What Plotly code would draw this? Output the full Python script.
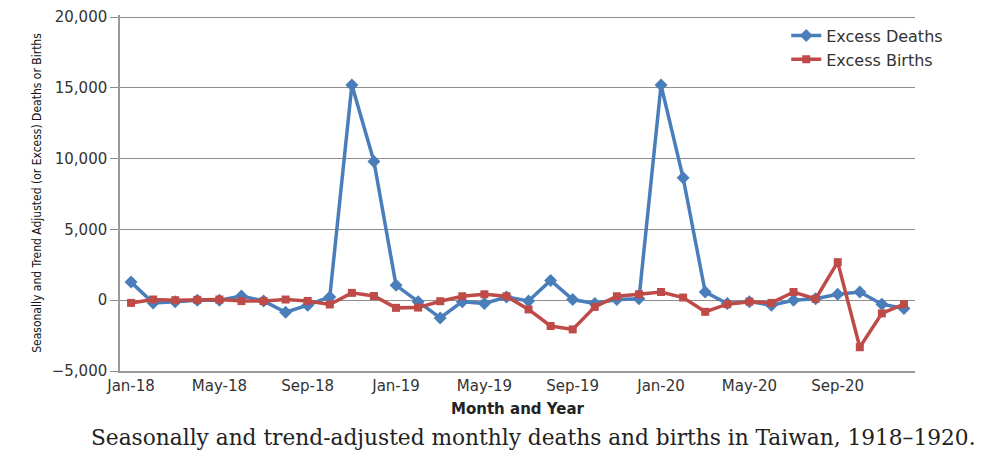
import plotly.graph_objects as go

months = [f"{m}-{y}" for y in ["18", "19", "20"] for m in
          ["Jan", "Feb", "Mar", "Apr", "May", "Jun", "Jul", "Aug", "Sep", "Oct", "Nov", "Dec"]]

excess_deaths = [1280, -200, -100, 0, 0, 300, -50, -850, -350, 230, 15200, 9800,
                 1050, -100, -1250, -100, -230, 230, -50, 1400, 50, -230, 50, 100,
                 15200, 8650, 580, -230, -100, -350, 0, 100, 420, 580, -280, -580]

excess_births = [-190, 50, 0, 30, 50, -60, -60, 50, -50, -300, 520, 300,
                 -540, -520, -70, 280, 420, 280, -650, -1820, -2060, -470, 280, 420,
                 580, 190, -820, -280, -100, -190, 580, 100, 2690, -3320, -930, -280]

tick_labels = ["Jan-18", "May-18", "Sep-18", "Jan-19", "May-19", "Sep-19", "Jan-20", "May-20", "Sep-20"]

caption = "Seasonally and trend-adjusted monthly deaths and births in Taiwan, 1918\u20131920."

font_sans = "DejaVu Sans, Open Sans, sans-serif"

fig = go.Figure()
fig.add_trace(go.Scatter(
    x=months, y=excess_deaths, name="Excess Deaths", mode="lines+markers",
    line=dict(color="#4A7EBB", width=3.5),
    marker=dict(symbol="diamond", size=10, color="#4A7EBB"),
))
fig.add_trace(go.Scatter(
    x=months, y=excess_births, name="Excess Births", mode="lines+markers",
    line=dict(color="#BE4B48", width=3.5),
    marker=dict(symbol="square", size=8, color="#BE4B48"),
))

fig.update_layout(
    width=984, height=445,
    margin=dict(l=112, r=77, t=7, b=82),
    paper_bgcolor="white", plot_bgcolor="white",
    font=dict(family=font_sans, size=13, color="#333333"),
    showlegend=True,
    legend=dict(x=0.838, y=0.99, xanchor="left", yanchor="top",
                font=dict(size=16, color="#333333", family=font_sans),
                bgcolor="rgba(0,0,0,0)"),
    xaxis=dict(
        type="category", categoryorder="array", categoryarray=months,
        tickmode="array", tickvals=tick_labels, ticktext=tick_labels,
        showgrid=False, showline=True, linecolor="#9a9a9a", linewidth=1.5,
        ticks="", tickfont=dict(size=15, color="#333333"),
        range=[-0.5, 35.5], automargin=False,
        title=dict(text="<b>Month and Year</b>", font=dict(size=15, color="#222222"), standoff=10),
    ),
    yaxis=dict(
        range=[-5000, 20150], tickmode="array",
        tickvals=[-5000, 0, 5000, 10000, 15000, 20000],
        ticktext=["\u22125,000", "0", "5,000", "10,000", "15,000", "20,000"],
        showgrid=True, gridcolor="#8c8c8c", gridwidth=1,
        zeroline=True, zerolinecolor="#8c8c8c", zerolinewidth=1,
        showline=True, linecolor="#9a9a9a", linewidth=1.5,
        ticks="outside", ticklen=8, tickcolor="#8c8c8c",
        tickfont=dict(size=15, color="#333333"), automargin=False,
        ticklabeloverflow="allow",
        title=dict(text="Seasonally and Trend Adjusted (or Excess) Deaths or Births",
                   font=dict(size=12, color="#111111",
                             family="Liberation Sans Narrow, DejaVu Sans Condensed, Arial Narrow, sans-serif"),
                   standoff=8),
    ),
)

fig.add_annotation(
    text=caption, xref="paper", yref="paper", x=0.5, y=-0.186,
    xanchor="center", yanchor="middle", showarrow=False, xshift=16,
    font=dict(family="DejaVu Serif, Liberation Serif, serif", size=21.7, color="#222222"),
)

fig.write_html("out.html")
